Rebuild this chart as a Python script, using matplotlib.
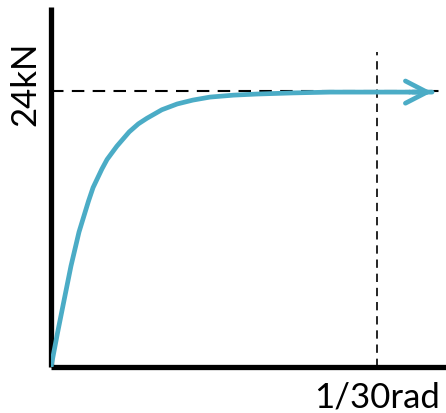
import numpy as np
import matplotlib
matplotlib.use("Agg")
import matplotlib.pyplot as plt

# Curve: drift (1.0 = 1/30 rad) vs load (1.0 = 24 kN)
drift = [0.0, 0.0206, 0.0408, 0.0613, 0.0859, 0.115, 0.129, 0.156, 0.172,
         0.202, 0.240, 0.268, 0.294, 0.340, 0.387, 0.435, 0.488, 0.560,
         0.632, 0.740, 0.856, 1.000, 1.100]
load = [0.0, 0.127, 0.246, 0.366, 0.489, 0.601, 0.650, 0.717, 0.752,
        0.800, 0.852, 0.881, 0.901, 0.932, 0.953, 0.967, 0.978, 0.985,
        0.989, 0.993, 0.996, 0.996, 0.996]
arrow_end = 1.169

yield_drift = 1.0
yield_load = 1.0
x_label = "1/30rad"
y_label = "24kN"

blue = "#4bacc6"
plt.rcParams['font.family'] = ['Lato', 'DejaVu Sans']

fig = plt.figure(figsize=(4.46, 4.14), dpi=100)
ax = fig.add_axes([51 / 446, 46 / 414, 395 / 446, 360 / 414])
ax.set_xlim(0, 395 / 326)
ax.set_ylim(0, 360 / 276)

for side in ["top", "right"]:
    ax.spines[side].set_visible(False)
for side in ["left", "bottom"]:
    ax.spines[side].set_linewidth(3.8)
    ax.spines[side].set_capstyle("butt")
ax.set_xticks([])
ax.set_yticks([])

# reference lines
ax.axhline(yield_load, color="black", lw=1.5, ls=(0, (6, 4)), zorder=1)
ax.plot([yield_drift, yield_drift], [0, 315 / 276], color="black", lw=1.2,
        ls=(0, (5, 3.5)), zorder=1, clip_on=False)

# curve
ax.plot(drift, load, color=blue, lw=3.4, solid_capstyle="round",
        solid_joinstyle="round", zorder=3)
ax.annotate("", xy=(arrow_end, load[-1]), xytext=(drift[-1], load[-1]),
            arrowprops=dict(arrowstyle="-", color=blue, lw=3.4,
                            shrinkA=0, shrinkB=0), zorder=3)
ax.annotate("", xy=(arrow_end, load[-1]), xytext=(arrow_end - 0.06, load[-1]),
            arrowprops=dict(arrowstyle="->,head_length=1.55,head_width=0.8",
                            color=blue, lw=3.4, shrinkA=0, shrinkB=0,
                            joinstyle="round", capstyle="round"), zorder=3)

ax.text(-26 / 326, (368 - 84) / 276, y_label, rotation=90, ha="center",
        va="center", fontsize=25)
ax.text(yield_drift, -30 / 276, x_label, ha="center", va="center", fontsize=25,
        clip_on=False)

fig.savefig("out.png", dpi=100)
